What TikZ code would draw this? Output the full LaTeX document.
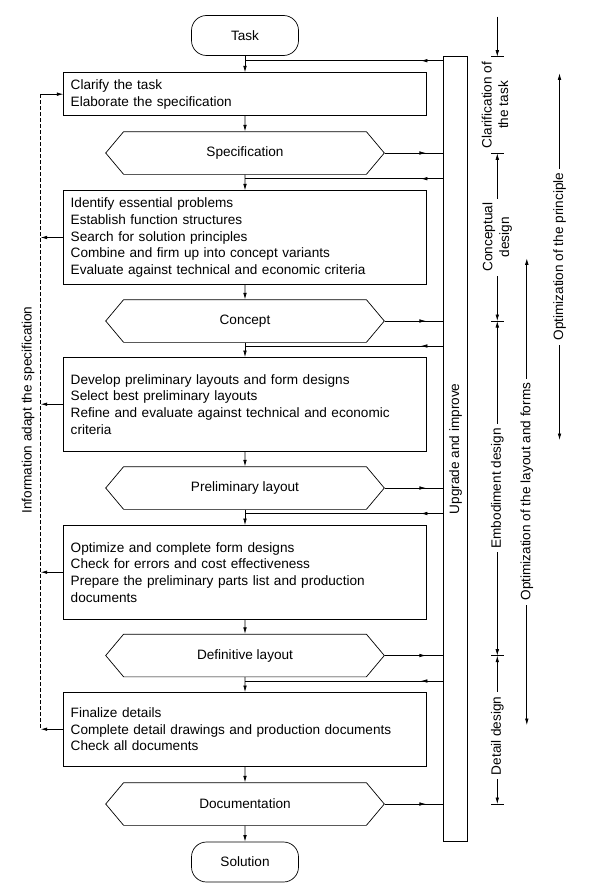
\documentclass[tikz,border=0pt]{standalone}
\usepackage{fontspec}
\setmainfont{Liberation Sans}
\usetikzlibrary{arrows.meta,shapes.symbols,decorations.markings}

\begin{document}
\begin{tikzpicture}[x=1pt,y=-1pt,line width=0.7pt,
        font=\fontsize{13.6}{16.7}\selectfont,
        >={Latex[length=6.5pt,width=3.6pt]},
        stepbox/.style={draw,rectangle,text width=348.6pt,inner xsep=7pt,
                        inner ysep=0pt,align=left},
        result/.style={draw,signal,signal to=east and west,
                       signal pointer angle=100,minimum width=278.6pt,
                       minimum height=42.7pt,inner sep=0pt},
        terminal/.style={draw,rounded corners=15pt,minimum width=107pt,
                         minimum height=40pt,inner sep=0pt},
        fbline/.style={postaction={decorate},decoration={markings,
                       mark=at position 22pt with {\arrow{>}}}},
        toupg/.style={postaction={decorate},decoration={markings,
                      mark=at position -17pt with {\arrow{>}}}},
        phase/.style={rotate=90,align=center,fill=white,inner sep=4pt}]
        \useasboundingbox (0,0) rectangle (589,888);

        % main chain
        \node[terminal] (task) at (245,35.5) {Task};
        \node[stepbox,minimum height=43pt] (b1) at (245,94.2)
            {Clarify the task\\Elaborate the specification};
        \node[result] (spec) at (245,153) {Specification};
        \node[stepbox,minimum height=93.6pt] (b2) at (245,237.5)
            {Identify essential problems\\Establish function structures\\
             Search for solution principles\\
             Combine and firm up into concept variants\\
             Evaluate against technical and economic criteria};
        \node[result] (concept) at (245,321) {Concept};
        \node[stepbox,minimum height=93.7pt] (b3) at (245,404.2)
            {Develop preliminary layouts and form designs\\
             Select best preliminary layouts\\
             Refine and evaluate against technical and economic\\criteria};
        \node[result] (prelim) at (245,488) {Preliminary layout};
        \node[stepbox,minimum height=93.7pt] (b4) at (245,572.2)
            {Optimize and complete form designs\\
             Check for errors and cost effectiveness\\
             Prepare the preliminary parts list and production\\documents};
        \node[result] (defin) at (245,655.5) {Definitive layout};
        \node[stepbox,minimum height=73.7pt] (b5) at (245,729.2)
            {Finalize details\\
             Complete detail drawings and production documents\\
             Check all documents};
        \node[result] (doc) at (245,804) {Documentation};
        \node[terminal] (sol) at (245,862) {Solution};

        \foreach \a/\b in {task/b1,b1/spec,spec/b2,b2/concept,concept/b3,
                b3/prelim,prelim/b4,b4/defin,defin/b5,b5/doc,doc/sol}
            \draw[->] (\a) -- (\b);

        % upgrade column
        \node[draw,minimum width=24.4pt,minimum height=784.3pt,inner sep=0pt]
            (upg) at (455.5,448.85) {};
        \node[rotate=90] at (upg.center) {Upgrade and improve};

        \foreach \y [count=\i] in {60.7,178.7,346,513.5,681}
            \coordinate (fb\i) at (245,\y);
        \foreach \i in {1,...,5}
            \draw[fbline] (upg.west |- fb\i) -- (fb\i);
        \foreach \h in {spec,concept,prelim,defin,doc}
            \draw[toupg] (\h.east) -- (\h.east -| upg.west);

        % information back
        \coordinate (info) at (40.7,0);
        \draw[dash pattern=on 3.5pt off 2.5pt] (b1.west -| info) -- (b5.west -| info);
        \draw[->] (b1.west -| info) -- (b1.west);
        \foreach \b in {b2,b3,b4,b5}
            \draw[->] (\b.west) -- (\b.west -| info);
        \node[rotate=90] (infotext) at (28,410) {Information adapt the specification};

        % phases
        \coordinate (p0) at (497.3,56.7);
        \coordinate (p1) at (497.3,153.3);
        \coordinate (p2) at (497.3,321);
        \coordinate (p3) at (497.3,655.7);
        \coordinate (p4) at (497.3,804);
        \coordinate (ptop) at (497.3,16.7);
        \foreach \p in {p0,p1,p2,p3,p4}
            \draw ([xshift=-6.3pt]\p) -- ([xshift=6.3pt]\p);
        \draw[->] (ptop) -- (p0);
        \node[phase] (clar) at (495,105) {Clarification of\\the task};
        \draw[<->] (p1) -- (p2) node[phase,midway] {Conceptual\\design};
        \draw[<->] (p2) -- (p3) node[phase,midway] {Embodiment design};
        \draw[<->] (p3) -- (p4) node[phase,pos=0.54] {Detail design};

        % optimization
        \coordinate (q0) at (526.8,258.3);
        \coordinate (q1) at (526.8,725);
        \draw[<->] (q0) -- (q1) node[phase,midway]
            {Optimization of the layout and forms};
        \coordinate (r0) at (559.5,73.3);
        \coordinate (r1) at (559.5,440);
        \draw[<->] (r0) -- (r1) node[phase,midway]
            {Optimization of the principle};
\end{tikzpicture}
\end{document}
